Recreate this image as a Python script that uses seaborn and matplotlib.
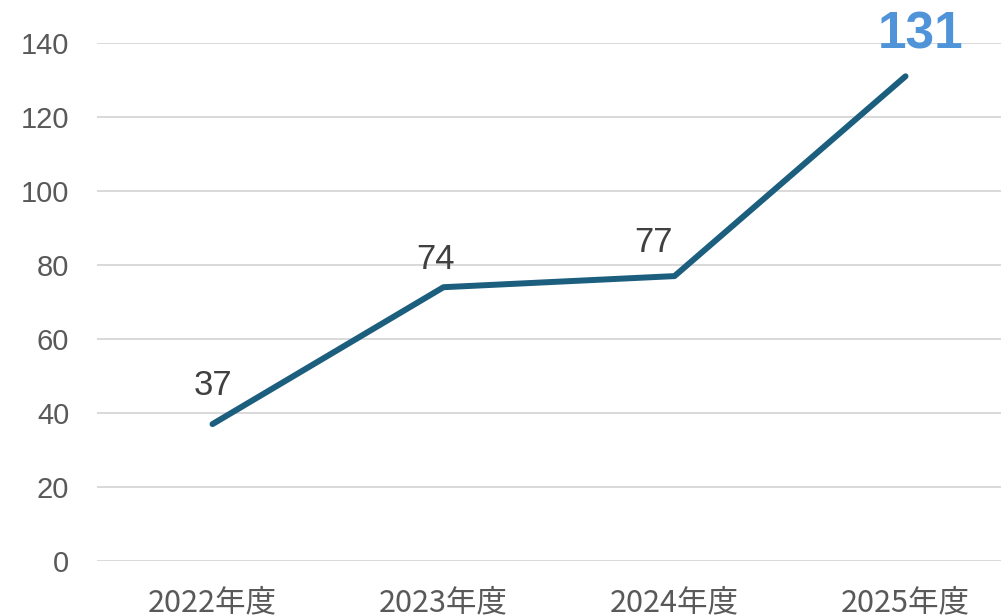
import numpy as np
import pandas as pd
import matplotlib.pyplot as plt
import seaborn as sns

years = ["2022年度", "2023年度", "2024年度", "2025年度"]
counts = [37, 74, 77, 131]
label_offsets = [(0, 28), (-6, 20), (-15, 24), (11, 30)]  # points

sns.set_theme(style="white")
plt.rcParams["font.family"] = ["Liberation Sans", "Noto Sans CJK JP", "DejaVu Sans"]

df = pd.DataFrame({"year": years, "count": counts})

fig = plt.figure(figsize=(10.01, 6.16), dpi=100)
ax = fig.add_axes([97 / 1001, 55 / 616, 924 / 1001, 518 / 616])

sns.lineplot(data=df, x="year", y="count", ax=ax, color="#1b5e7e",
             linewidth=4.3, sort=False, solid_capstyle="round")

ax.set_ylim(0, 140)
ax.set_xlim(-0.5, 3.5)
ax.set_yticks(np.arange(0, 141, 20))
ax.yaxis.grid(True, color="#d9d9d9", linewidth=1.4)
ax.set_axisbelow(True)
for s in ax.spines.values():
    s.set_visible(False)
ax.set_xlabel("")
ax.set_ylabel("")
ax.tick_params(axis="y", length=0, pad=20, labelsize=21, labelcolor="#595959")
ax.tick_params(axis="x", length=0, pad=19, labelsize=22, labelcolor="#595959")
for t in ax.get_xticklabels():
    t.set_fontfamily(["Noto Sans CJK JP", "DejaVu Sans"])

for i, (v, off) in enumerate(zip(counts, label_offsets)):
    last = i == len(counts) - 1
    ax.annotate(str(v), (i, v), xytext=off, textcoords="offset points",
                ha="center", va="center", clip_on=False,
                fontsize=37 if last else 25,
                fontweight="bold" if last else "normal",
                color="#4f94d8" if last else "#404040")

fig.savefig("out.png", dpi=100)
